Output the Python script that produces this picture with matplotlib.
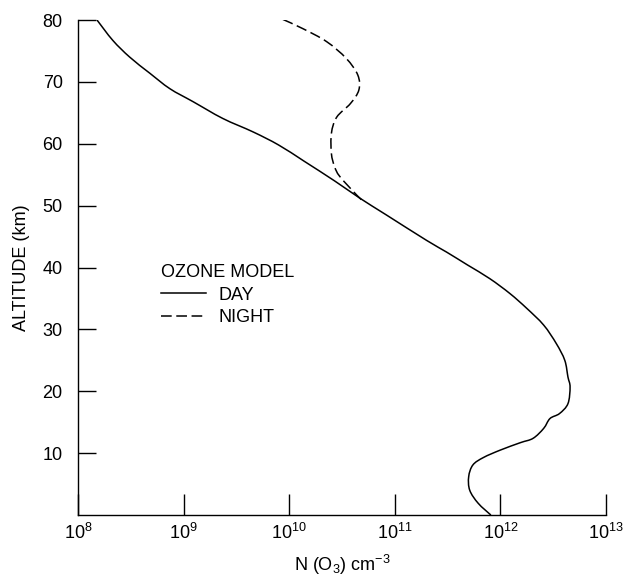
import numpy as np
import matplotlib.pyplot as plt
from matplotlib.path import Path
from matplotlib.patches import PathPatch
from matplotlib.ticker import FixedLocator, FuncFormatter, NullLocator

plt.rcParams['font.family'] = ['Liberation Sans', 'DejaVu Sans']
plt.rcParams['mathtext.fontset'] = 'custom'
plt.rcParams['mathtext.rm'] = 'Liberation Sans'
plt.rcParams['mathtext.it'] = 'Liberation Sans'

# ozone number density, log10(N / cm^-3)
day_alt = [80.0, 76.7, 74.0, 71.4, 68.9, 66.8, 64.1, 61.9, 59.8, 57.2, 54.0,
           51.2, 48.5, 44.4, 42.5, 40.4, 38.2, 35.8, 33.4, 30.7, 27.7, 25.0,
           22.3, 20.7, 18.0, 16.4, 15.6, 14.0, 12.4, 11.7, 10.5, 9.3, 8.1,
           6.2, 4.0, 1.9, 0.0]
day_logn = [8.18, 8.33, 8.49, 8.68, 8.87, 9.09, 9.37, 9.66, 9.90, 10.14,
            10.43, 10.67, 10.92, 11.30, 11.49, 11.69, 11.90, 12.09, 12.25,
            12.41, 12.53, 12.61, 12.64, 12.66, 12.64, 12.56, 12.47, 12.41,
            12.31, 12.19, 12.00, 11.84, 11.74, 11.70, 11.71, 11.79, 11.91]

night_alt = [80.1, 78.6, 76.5, 73.8, 71.1, 68.7, 66.5, 64.3, 61.7, 58.4,
             56.3, 54.7, 51.7, 50.9]
night_logn = [9.94, 10.13, 10.355, 10.54, 10.65, 10.66, 10.58, 10.45, 10.40,
              10.40, 10.43, 10.48, 10.64, 10.69]

x_ticks = [1e8, 1e9, 1e10, 1e11, 1e12, 1e13]
y_ticks = [10, 20, 30, 40, 50, 60, 70, 80]


def smooth_path(logx, y):
    # Catmull-Rom through the read points, drawn as cubic Bezier segments
    p = np.column_stack([logx, y]).astype(float)
    ext = np.vstack([p[0], p, p[-1]])
    verts = [p[0]]
    codes = [Path.MOVETO]
    for i in range(len(p) - 1):
        p0, p1, p2, p3 = ext[i], ext[i + 1], ext[i + 2], ext[i + 3]
        verts += [p1 + (p2 - p0) / 6, p2 - (p3 - p1) / 6, p2]
        codes += [Path.CURVE4] * 3
    verts = np.array(verts)
    verts[:, 0] = 10 ** verts[:, 0]
    return Path(verts, codes)


fig = plt.figure(figsize=(6.26, 5.80), dpi=100)
ax = fig.add_axes([0.1246, 0.112, 0.8434, 0.8535])

ax.set_xscale('log')
ax.set_xlim(1e8, 1e13)
ax.set_ylim(0, 80)

ax.add_patch(PathPatch(smooth_path(day_logn, day_alt), fill=False,
                       edgecolor='black', lw=1.1))
ax.add_patch(PathPatch(smooth_path(night_logn, night_alt), fill=False,
                       edgecolor='black', lw=1.1, linestyle=(0, (7, 3))))

# legend handles
ax.plot([], [], color='black', lw=1.1, label='DAY')
ax.plot([], [], color='black', lw=1.1, dashes=(7, 3), label='NIGHT')

ax.xaxis.set_major_locator(FixedLocator(x_ticks))
ax.xaxis.set_minor_locator(NullLocator())
ax.xaxis.set_major_formatter(FuncFormatter(lambda v, p: r'$10^{%d}$' % round(np.log10(v))))
ax.set_yticks(y_ticks)

ax.spines['top'].set_visible(False)
ax.spines['right'].set_visible(False)
for s in ['left', 'bottom']:
    ax.spines[s].set_linewidth(1.0)

ax.tick_params(axis='x', direction='in', length=15, width=1.0, labelsize=13, pad=6)
ax.tick_params(axis='y', direction='in', length=13, width=1.0, labelsize=13, pad=11)

ax.set_xlabel(r'N (O$_3$) cm$^{-3}$', fontsize=13, labelpad=7)
ax.set_ylabel('ALTITUDE (km)', fontsize=13, labelpad=9)

leg = ax.legend(title='OZONE MODEL', loc='upper left', bbox_to_anchor=(0.14, 0.525),
                frameon=False, fontsize=13, title_fontsize=13, handlelength=2.5,
                handletextpad=0.7, labelspacing=0.3, borderpad=0, alignment='left')

fig.savefig('out.png', dpi=100)
